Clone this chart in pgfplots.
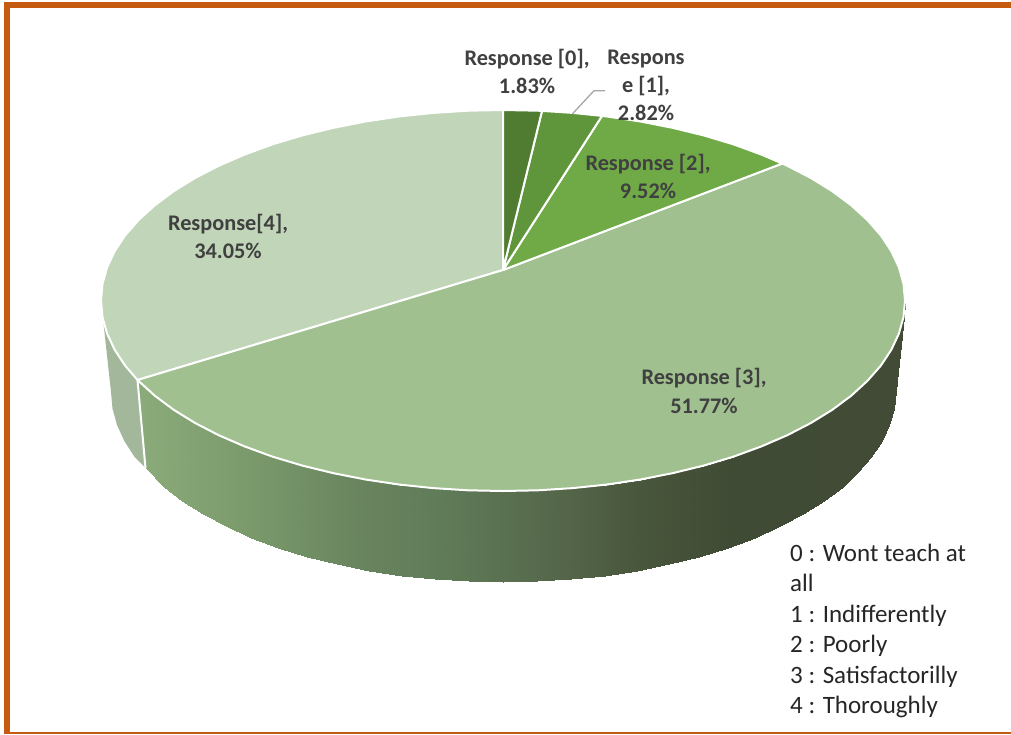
\documentclass[border=0pt]{standalone}
\usepackage{fontspec}
\setmainfont{Carlito}
\usepackage{pgfplots}
\pgfplotsset{compat=1.18}
\definecolor{rzero}{HTML}{4F7C30}
\definecolor{rone}{HTML}{5F963B}
\definecolor{rtwo}{HTML}{6FAA47}
\definecolor{rthree}{HTML}{A0C18F}
\definecolor{rfour}{HTML}{C1D5B8}
\definecolor{sidefour}{HTML}{A3B79B}
\definecolor{framec}{HTML}{C55A11}
\definecolor{labelc}{HTML}{404040}
\definecolor{leader}{HTML}{A6A6A6}
\newcommand\lab{\fontsize{22.3}{24}\selectfont\bfseries\color{labelc}}
\newcommand\leg{\fontsize{25}{28}\selectfont\color{black!85}}
\begin{document}
\begin{tikzpicture}
\begin{axis}[
  scale only axis, width=1011pt, height=734pt,
  xmin=0, xmax=1011, ymin=0, ymax=734, y dir=reverse,
  enlargelimits=false, clip=true,
  axis line style={draw=none}, xtick=\empty, ytick=\empty,
  colormap={sidegrad}{rgb255(100)=(138,170,122) rgb255(145)=(138,170,122) rgb255(250)=(122,154,107) rgb255(350)=(106,134,96) rgb255(450)=(95,122,87) rgb255(550)=(86,104,75) rgb255(650)=(71,85,58) rgb255(730)=(64,75,53) rgb255(905)=(65,75,53)},
  point meta min=100, point meta max=905,
]
% side of Response [3]
\addplot[surf, shader=interp, mesh/rows=2, point meta=x] table {
x y
905.0 300.5
903.5 317.1
898.9 333.6
891.3 349.8
880.8 365.7
867.3 381.0
851.1 395.8
832.3 409.8
810.9 423.0
787.3 435.2
761.4 446.4
733.6 456.6
704.0 465.5
672.9 473.1
640.5 479.5
607.0 484.5
572.8 488.1
538.0 490.3
503.0 491.0
468.0 490.3
433.2 488.1
399.0 484.5
365.5 479.5
333.1 473.1
302.0 465.5
272.4 456.6
244.6 446.4
218.7 435.2
195.1 423.0
173.7 409.8
154.9 395.8
137.5 380.0
895.0 392.0
893.5 408.6
889.0 425.0
881.6 441.2
871.4 457.0
858.3 472.3
842.5 487.0
824.1 501.0
803.3 514.1
780.2 526.3
755.0 537.5
727.8 547.6
699.0 556.5
668.7 564.2
637.1 570.5
604.5 575.5
571.1 579.1
537.2 581.3
503.0 582.0
468.8 581.3
434.9 579.1
401.5 575.5
368.9 570.5
337.3 564.2
307.0 556.5
278.2 547.6
251.0 537.5
225.8 526.3
202.7 514.1
181.9 501.0
163.5 487.0
145.5 468.0
};
% side of Response [4]
\addplot[fill=sidefour, draw=none] coordinates {
(137.5,380.0) (125.2,365.7) (114.7,349.8) (107.1,333.6) (102.5,317.1) (101.0,300.5)
(111.0,392.0) (112.5,408.6) (117.0,425.0) (124.4,441.2) (134.6,457.0) (145.5,468.0)
} -- cycle;
\addplot[white, line width=2pt] coordinates {(137.5,380.0) (145.5,468.0)};
% top: Response [4]
\addplot[fill=rfour, draw=white, line width=2pt, line join=round] coordinates {
(503,270) (137.5,380.0) (125.2,365.7) (114.7,349.8) (107.1,333.6) (102.5,317.1) (101.0,300.5)
(102.5,283.9) (107.1,267.4) (114.7,251.2) (125.2,235.3) (138.7,220.0) (154.9,205.2)
(173.7,191.2) (195.1,178.0) (218.7,165.8) (244.6,154.6) (272.4,144.4) (302.0,135.5)
(333.1,127.9) (365.5,121.5) (399.0,116.5) (433.2,112.9) (468.0,110.7) (503.0,110.0)
} -- cycle;
% top: Response [3]
\addplot[fill=rthree, draw=white, line width=2pt, line join=round] coordinates {
(503,270) (782.3,163.5) (787.3,165.8) (810.9,178.0) (832.3,191.2) (851.1,205.2) (867.3,220.0)
(880.8,235.3) (891.3,251.2) (898.9,267.4) (903.5,283.9) (905.0,300.5)
(903.5,317.1) (898.9,333.6) (891.3,349.8) (880.8,365.7) (867.3,381.0) (851.1,395.8)
(832.3,409.8) (810.9,423.0) (787.3,435.2) (761.4,446.4) (733.6,456.6) (704.0,465.5)
(672.9,473.1) (640.5,479.5) (607.0,484.5) (572.8,488.1) (538.0,490.3) (503.0,491.0)
(468.0,490.3) (433.2,488.1) (399.0,484.5) (365.5,479.5) (333.1,473.1) (302.0,465.5)
(272.4,456.6) (244.6,446.4) (218.7,435.2) (195.1,423.0) (173.7,409.8) (154.9,395.8) (137.5,380.0)
} -- cycle;
% top: Response [2]
\addplot[fill=rtwo, draw=white, line width=2pt, line join=round] coordinates {
(503,270) (602.0,115.9) (607.0,116.5) (640.5,121.5) (672.9,127.9) (704.0,135.5) (733.6,144.4) (761.4,154.6) (782.3,163.5)
} -- cycle;
% top: Response [1]
\addplot[fill=rone, draw=white, line width=2pt, line join=round] coordinates {
(503,270) (542.0,110.9) (572.8,112.9) (602.0,115.9)
} -- cycle;
% top: Response [0]
\addplot[fill=rzero, draw=white, line width=2pt, line join=round] coordinates {
(503,270) (503.0,110.0) (538.0,110.7) (542.0,110.9)
} -- cycle;
% leader line
\addplot[leader, line width=1.3pt] coordinates {(605,90.7) (594,90.7) (572.3,114)};
% frame: top, left, bottom
\addplot[fill=framec, draw=none] coordinates {(4.3,2.3) (1011,2.3) (1011,7.9) (4.3,7.9)} -- cycle;
\addplot[fill=framec, draw=none] coordinates {(4.3,2.3) (10,2.3) (10,734) (4.3,734)} -- cycle;
\addplot[fill=framec, draw=none] coordinates {(4.3,731.7) (1011,731.7) (1011,734) (4.3,734)} -- cycle;
% data labels
\node[anchor=center] at (axis cs:527,59) {\lab Response [0],};
\node[anchor=center] at (axis cs:527,86) {\lab 1.83\%};
\node[anchor=center] at (axis cs:646,59) {\lab Respons};
\node[anchor=center] at (axis cs:646,86) {\lab e [1],};
\node[anchor=center] at (axis cs:646,113) {\lab 2.82\%};
\node[anchor=center] at (axis cs:648,164) {\lab Response [2],};
\node[anchor=center] at (axis cs:648,191) {\lab 9.52\%};
\node[anchor=center] at (axis cs:704,378) {\lab Response [3],};
\node[anchor=center] at (axis cs:704,406) {\lab 51.77\%};
\node[anchor=center] at (axis cs:228,224) {\lab Response[4],};
\node[anchor=center] at (axis cs:228,251) {\lab 34.05\%};
% key
\node[anchor=base west, inner sep=0pt] at (axis cs:790,561) {\leg 0 : Wont teach at};
\node[anchor=base west, inner sep=0pt] at (axis cs:790,591) {\leg all};
\node[anchor=base west, inner sep=0pt] at (axis cs:790,622) {\leg 1 : Indifferently};
\node[anchor=base west, inner sep=0pt] at (axis cs:790,652) {\leg 2 : Poorly};
\node[anchor=base west, inner sep=0pt] at (axis cs:790,683) {\leg 3 : Satisfactorilly};
\node[anchor=base west, inner sep=0pt] at (axis cs:790,713) {\leg 4 : Thoroughly};
\end{axis}
\end{tikzpicture}
\end{document}
